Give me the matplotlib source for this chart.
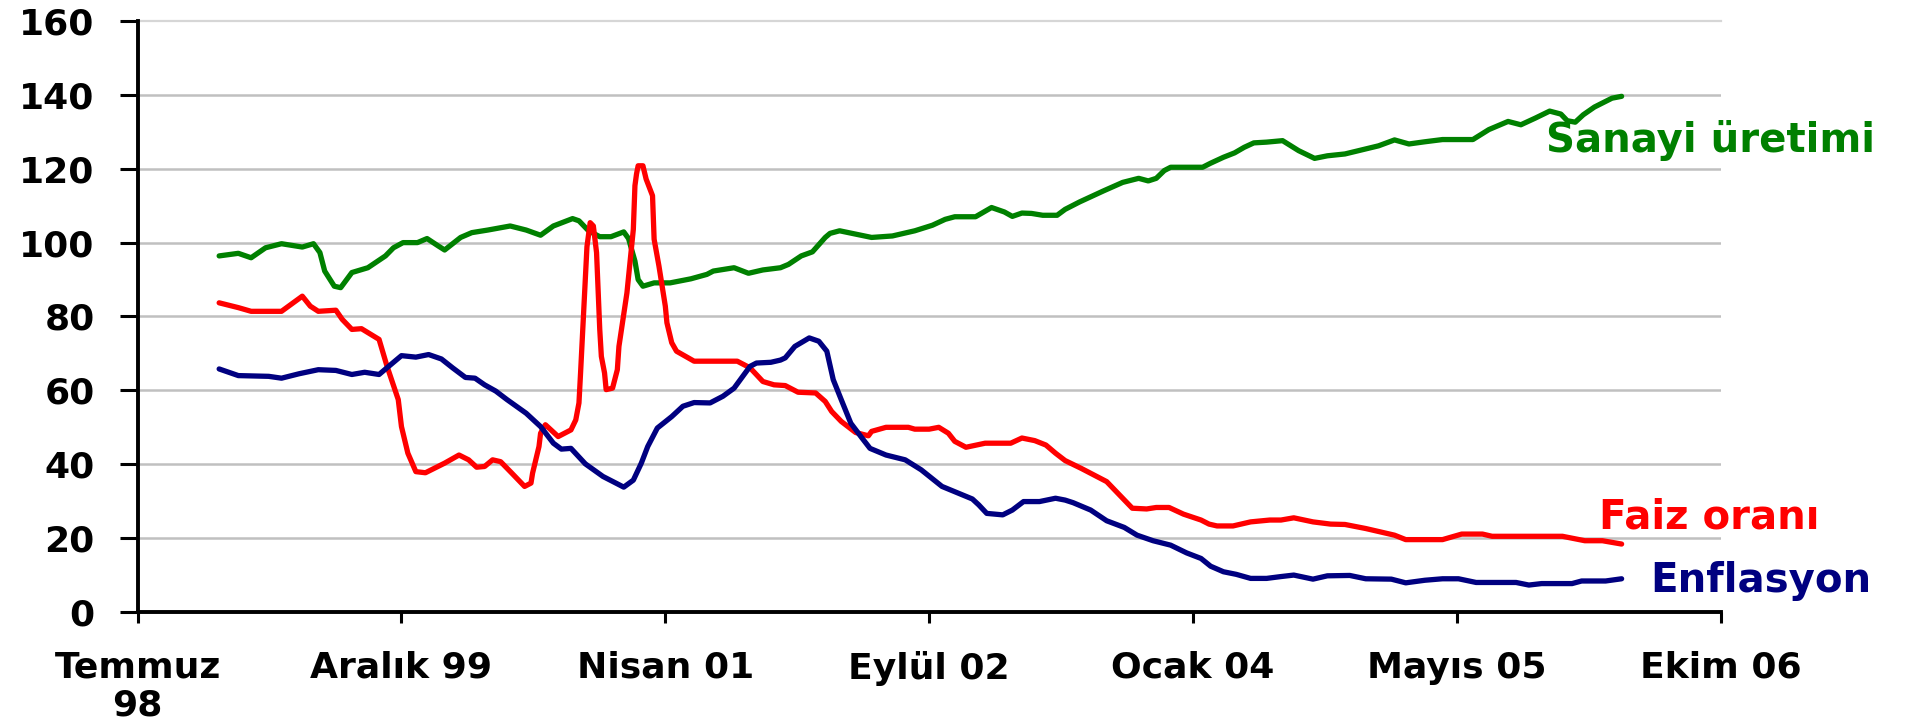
import matplotlib.pyplot as plt

# x values are months counted from July 1998 (Temmuz 98 = 0)

# Sanayi üretimi (industrial production index)
sanayi_x = [5.1, 6.3, 7.1, 8.0, 9.0, 10.3, 11.0, 11.4, 11.7, 12.3, 12.7, 13.4, 14.4, 15.5, 16.0,
            16.6, 17.5, 18.1, 18.8, 19.2, 20.2, 20.9, 21.9, 23.3, 24.3, 25.2, 26.0, 27.2, 27.6,
            28.2, 28.9, 29.6, 30.4, 30.7, 31.1, 31.3, 31.6, 32.3, 33.3, 34.6, 35.6, 36.0, 37.3,
            38.2, 39.1, 40.2, 40.7, 41.5, 42.2, 43.0, 43.3, 43.9, 44.9, 45.9, 47.2, 48.6, 49.7,
            50.5, 51.1, 52.4, 53.4, 54.2, 54.7, 55.3, 55.9, 56.6, 57.5, 58.0, 58.9, 60.4, 61.6,
            62.6, 63.2, 63.7, 64.2, 64.6, 66.6, 67.1, 67.9, 68.6, 69.2, 69.8, 70.6, 71.6, 72.6,
            73.6, 74.4, 75.5, 77.6, 78.6, 79.5, 80.5, 81.6, 83.5, 84.5, 85.7, 86.5, 87.4, 88.3,
            89.0, 89.4, 89.9, 90.4, 91.1, 92.2, 92.8]
sanayi = [96.4, 97.1, 95.9, 98.6, 99.7, 98.8, 99.7, 97.3, 92.3, 88.2, 87.8, 91.9, 93.2, 96.4, 98.6,
          100.0, 100.0, 101.1, 99.1, 98.0, 101.4, 102.7, 103.4, 104.5, 103.4, 102.0, 104.5, 106.5, 105.9,
          103.2, 101.6, 101.6, 102.9, 101.1, 95.0, 90.0, 88.2, 89.1, 89.1, 90.2, 91.4, 92.3, 93.2,
          91.7, 92.6, 93.2, 94.1, 96.4, 97.5, 101.4, 102.5, 103.2, 102.3, 101.4, 101.8, 103.2, 104.7,
          106.3, 107.0, 107.0, 109.5, 108.3, 107.1, 108.0, 107.9, 107.4, 107.4, 109.0, 111.0, 114.0, 116.3,
          117.4, 116.7, 117.4, 119.5, 120.4, 120.4, 121.5, 123.1, 124.3, 125.8, 127.0, 127.2, 127.6, 124.9,
          122.8, 123.5, 124.0, 126.2, 127.8, 126.7, 127.3, 127.9, 127.9, 130.6, 132.8, 131.9, 133.7, 135.6,
          134.8, 133.0, 132.6, 134.6, 136.7, 139.1, 139.6]

# Faiz oranı (interest rate)
faiz_x = [5.1, 6.3, 7.1, 9.0, 10.3, 10.8, 11.3, 12.4, 12.8, 13.4, 14.0, 15.1, 15.6, 16.3, 16.5,
          16.9, 17.4, 18.0, 19.2, 20.1, 20.7, 21.2, 21.7, 22.2, 22.7, 23.4, 24.2, 24.6, 24.7,
          25.1, 25.2, 25.5, 26.3, 27.1, 27.4, 27.6, 27.7, 28.1, 28.3, 28.5, 28.7, 28.9, 29.0,
          29.2, 29.3, 29.7, 30.0, 30.1, 30.6, 31.0, 31.1, 31.2, 31.3, 31.6, 31.8, 32.2, 32.3,
          32.6, 33.0, 33.1, 33.4, 33.7, 34.8, 37.5, 38.3, 39.1, 39.8, 40.5, 41.3, 42.4, 43.0,
          43.4, 44.0, 44.9, 45.7, 45.9, 46.8, 48.2, 48.6, 49.5, 50.1, 50.7, 51.1, 51.8, 53.0,
          54.6, 55.3, 56.1, 56.8, 57.4, 58.0, 59.0, 60.6, 61.4, 62.2, 63.1, 63.7, 64.5, 65.4,
          66.5, 67.0, 67.5, 68.5, 69.6, 70.8, 71.5, 72.3, 73.5, 74.6, 75.5, 76.8, 78.6, 79.3,
          81.6, 82.8, 84.1, 84.7, 89.1, 90.5, 91.6, 92.8]
faiz = [83.7, 82.4, 81.4, 81.4, 85.5, 82.8, 81.4, 81.7, 79.2, 76.5, 76.7, 73.8, 66.5, 57.5, 50.2,
        43.0, 38.0, 37.7, 40.3, 42.5, 41.2, 39.2, 39.4, 41.2, 40.7, 37.6, 34.0, 34.9, 37.6,
        44.8, 48.4, 50.7, 47.5, 49.3, 52.0, 56.6, 64.7, 98.9, 105.4, 104.5, 97.3, 76.5, 69.2,
        64.7, 60.2, 60.6, 65.6, 71.9, 86.4, 103.6, 115.4, 118.6, 120.8, 120.8, 117.2, 112.7, 100.9,
        93.7, 82.8, 78.3, 72.9, 70.6, 67.9, 67.9, 66.1, 62.4, 61.5, 61.3, 59.5, 59.3, 57.0,
        54.3, 51.6, 48.6, 47.7, 48.9, 50.0, 50.0, 49.5, 49.5, 50.0, 48.4, 46.2, 44.6, 45.7,
        45.7, 47.1, 46.4, 45.2, 43.0, 41.0, 38.9, 35.3, 31.7, 28.1, 27.9, 28.3, 28.3, 26.5,
        24.9, 23.8, 23.3, 23.3, 24.4, 24.9, 24.9, 25.5, 24.4, 23.8, 23.7, 22.6, 20.8, 19.6,
        19.6, 21.1, 21.1, 20.5, 20.5, 19.3, 19.3, 18.4]

# Enflasyon (inflation)
enf_x = [5.1, 6.3, 8.2, 9.0, 10.1, 11.3, 12.4, 13.4, 14.2, 15.1, 15.7, 16.5, 17.4, 18.2, 19.0,
         19.7, 20.5, 21.1, 21.7, 22.4, 23.1, 24.3, 25.2, 26.0, 26.5, 27.1, 28.0, 29.1, 30.0,
         30.4, 31.0, 31.5, 31.9, 32.5, 33.4, 34.1, 34.8, 35.8, 36.6, 37.3, 38.3, 38.7, 39.6,
         40.2, 40.5, 41.1, 42.0, 42.6, 43.1, 43.5, 44.0, 44.6, 45.3, 45.8, 46.8, 48.0, 49.0,
         50.3, 52.2, 52.6, 53.1, 54.1, 54.7, 55.4, 56.4, 57.4, 58.0, 58.5, 59.6, 60.6, 61.7,
         62.5, 63.5, 64.6, 65.6, 66.5, 67.1, 67.9, 68.7, 69.6, 70.6, 71.5, 72.3, 73.5, 74.4,
         75.8, 76.8, 78.4, 79.3, 80.5, 81.6, 82.6, 83.7, 86.2, 87.0, 87.8, 89.7, 90.3, 91.8, 92.8]
enf = [65.8, 64.0, 63.8, 63.3, 64.5, 65.6, 65.4, 64.3, 64.9, 64.3, 66.5, 69.4, 69.0, 69.7, 68.5,
       66.1, 63.5, 63.3, 61.5, 59.8, 57.5, 53.8, 50.2, 45.7, 44.1, 44.3, 40.1, 36.7, 34.7,
       33.8, 35.7, 40.3, 44.8, 49.8, 52.9, 55.7, 56.7, 56.6, 58.4, 60.6, 66.5, 67.4, 67.6,
       68.2, 68.8, 71.9, 74.2, 73.3, 70.6, 62.9, 57.5, 51.1, 47.1, 44.3, 42.5, 41.2, 38.5,
       34.0, 30.6, 29.0, 26.7, 26.3, 27.6, 29.9, 29.9, 30.8, 30.3, 29.6, 27.6, 24.7, 22.9,
       20.8, 19.3, 18.1, 16.0, 14.5, 12.4, 10.9, 10.2, 9.1, 9.1, 9.6, 10.0, 8.9, 9.8,
       9.9, 9.0, 8.9, 7.9, 8.6, 9.0, 9.0, 8.0, 8.0, 7.3, 7.7, 7.7, 8.4, 8.4, 9.0]

tick_pos = [0, 16.5, 33, 49.5, 66, 82.5, 99]
tick_labels = ['Temmuz\n98', 'Aralık 99', 'Nisan 01', 'Eylül 02', 'Ocak 04', 'Mayıs 05', 'Ekim 06']

plt.rcParams['font.family'] = ['DejaVu Sans']
plt.rcParams['font.weight'] = 'bold'

fig = plt.figure(figsize=(19.19, 7.23), dpi=100)
ax = fig.add_axes([0.0717, 0.1535, 0.825, 0.8175])

# gridlines
for v in range(20, 160, 20):
    ax.axhline(v, color='#C0C0C0', lw=1.8, zorder=1)
ax.axhline(160, color='#D6D6D6', lw=1.6, zorder=1, clip_on=False)

ax.plot(sanayi_x, sanayi, color='#008000', lw=3.8, zorder=3, solid_joinstyle='round', solid_capstyle='round')
ax.plot(faiz_x, faiz, color='#FF0000', lw=3.8, zorder=3, solid_joinstyle='round', solid_capstyle='round')
ax.plot(enf_x, enf, color='#000080', lw=3.8, zorder=3, solid_joinstyle='round', solid_capstyle='round')

ax.set_xlim(0, 99)
ax.set_ylim(0, 160)
ax.set_yticks(range(0, 161, 20))
ax.set_xticks(tick_pos)
ax.set_xticklabels(tick_labels, fontsize=26, fontweight='bold', linespacing=1.15)
ax.tick_params(axis='y', labelsize=26, length=13, width=2.2, direction='out', pad=18)
ax.tick_params(axis='x', length=8, width=2.2, direction='out', pad=20)

for s in ['top', 'right']:
    ax.spines[s].set_visible(False)
for s in ['left', 'bottom']:
    ax.spines[s].set_linewidth(2.8)
    ax.spines[s].set_color('black')

# series labels at the right end
ax.text(88.1, 124.5, 'Sanayi üretimi', color='#008000', fontsize=29, fontweight='bold',
        va='baseline', ha='left', clip_on=False)
ax.text(91.4, 22.7, 'Faiz oranı', color='#FF0000', fontsize=29, fontweight='bold',
        va='baseline', ha='left', clip_on=False)
ax.text(94.6, 5.4, 'Enflasyon', color='#000080', fontsize=29, fontweight='bold',
        va='baseline', ha='left', clip_on=False)

fig.savefig('out.png', dpi=100)
